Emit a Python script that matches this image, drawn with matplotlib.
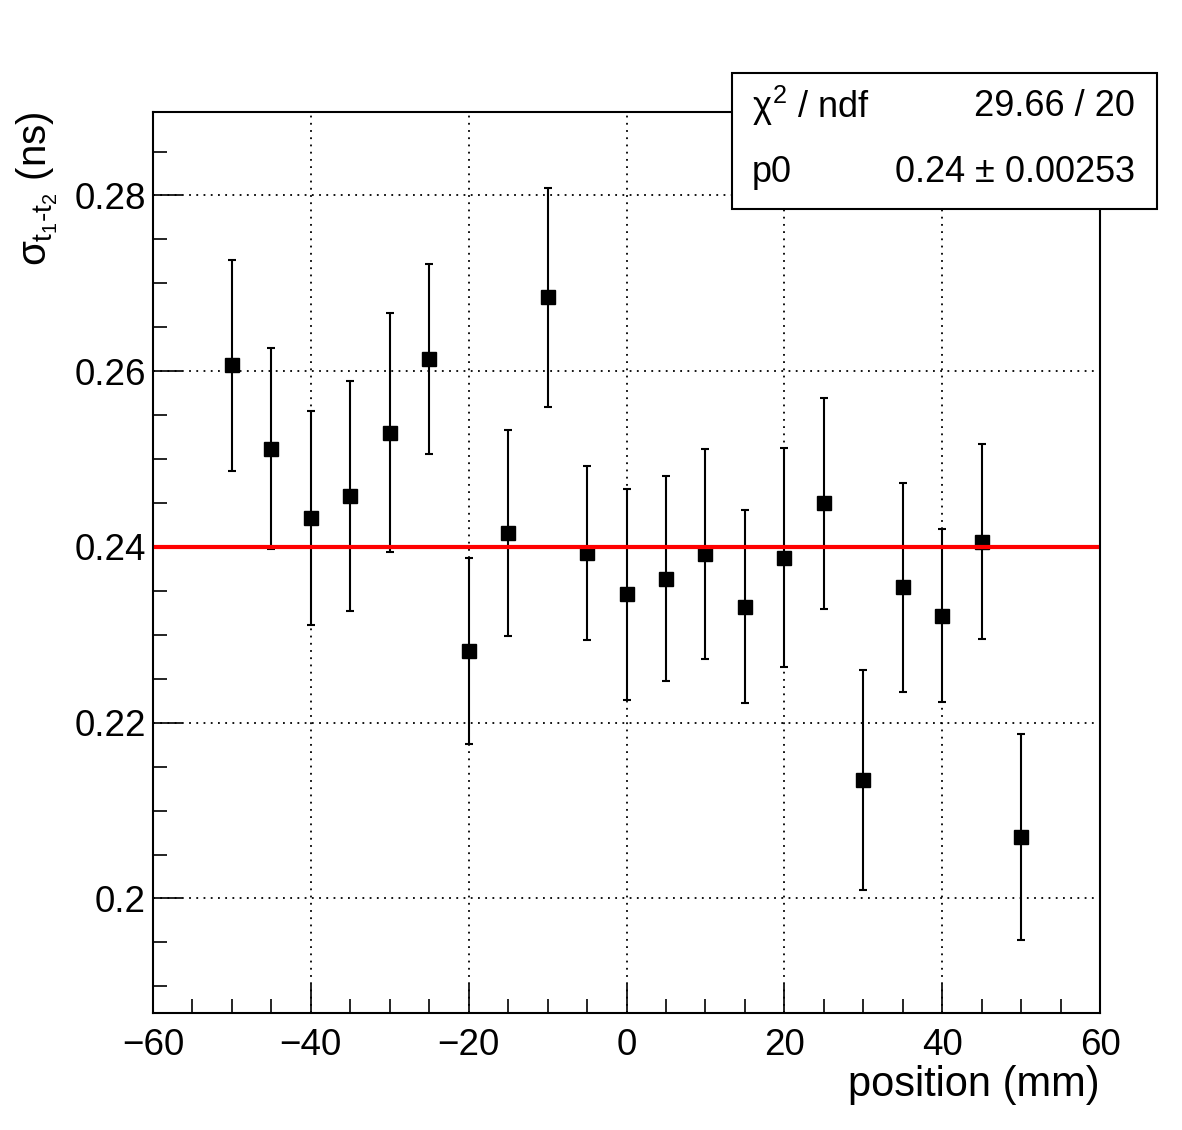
import matplotlib
matplotlib.use("Agg")
import matplotlib.pyplot as plt
from matplotlib.patches import Rectangle
from matplotlib.ticker import MultipleLocator, FuncFormatter

# フォント（ROOTのHelvetica相当）
plt.rcParams['font.family'] = ['Liberation Sans', 'DejaVu Sans']
plt.rcParams['mathtext.fontset'] = 'custom'
plt.rcParams['mathtext.rm'] = 'Liberation Sans'
plt.rcParams['mathtext.it'] = 'Liberation Sans'
plt.rcParams['mathtext.sf'] = 'Liberation Sans'

# データ
position = [-50, -45, -40, -35, -30, -25, -20, -15, -10, -5, 0,
            5, 10, 15, 20, 25, 30, 35, 40, 45, 50]
sigma = [0.2607, 0.2512, 0.2433, 0.2458, 0.2530, 0.2614, 0.2282, 0.2416,
         0.2684, 0.2393, 0.2346, 0.2364, 0.2392, 0.2332, 0.2388, 0.2450,
         0.2135, 0.2354, 0.2322, 0.2406, 0.2070]
sigma_err = [0.0120, 0.0114, 0.0122, 0.0131, 0.0136, 0.0108, 0.0106, 0.0117,
             0.0125, 0.0099, 0.0120, 0.0117, 0.0120, 0.0110, 0.0125, 0.0120,
             0.0125, 0.0119, 0.0098, 0.0111, 0.0117]

# フィット結果
p0 = 0.24
fit_range = [-59.6, 59.6]
chi2_text = "29.66 / 20"
p0_text = "0.24 $\\pm$ 0.00253"

fig = plt.figure(figsize=(11.82, 11.30), dpi=100)
ax = fig.add_axes([153/1182, 1 - 1013/1130, 947/1182, 901/1130])

# 点と誤差棒
ax.errorbar(position, sigma, yerr=sigma_err, fmt='s', color='black',
            markersize=10, elinewidth=1.5, capsize=3, capthick=1.5, zorder=3)
# フィット直線
ax.plot(fit_range, [p0, p0], color='red', lw=3, zorder=4)

ax.set_xlim(-60, 60)
ax.set_ylim(0.18697, 0.2895)

ax.xaxis.set_major_locator(MultipleLocator(20))
ax.xaxis.set_minor_locator(MultipleLocator(5))
ax.yaxis.set_major_locator(MultipleLocator(0.02))
ax.yaxis.set_minor_locator(MultipleLocator(0.005))
ax.xaxis.set_major_formatter(FuncFormatter(lambda v, p: ('%g' % v).replace('-', '\u2212')))
ax.yaxis.set_major_formatter(FuncFormatter(lambda v, p: '%g' % round(v, 4)))

ax.tick_params(which='both', direction='in', top=False, right=False, width=1.2)
ax.tick_params(which='major', length=21, labelsize=26.5)
ax.tick_params(which='minor', length=10)
ax.tick_params(axis='x', which='major', pad=11)
ax.tick_params(axis='y', which='major', pad=5)

ax.grid(True, which='major', color='black', linestyle=(0, (1, 3)), lw=1.3)
for s in ax.spines.values():
    s.set_linewidth(1.5)

# 軸ラベル
ax.set_xlabel('position (mm)', fontsize=30, ha='right', va='center')
ax.xaxis.set_label_coords(1.0, -0.08)
ax.set_ylabel(r'$\sigma_{t_{1}\text{-}t_{2}}$ (ns)', fontsize=29, ha='right', va='center')
ax.yaxis.set_label_coords(-0.122, 1.0)

# 統計ボックス
fig.patches.append(Rectangle((732/1182, 1 - 209/1130), 425/1182, 136/1130,
                             transform=fig.transFigure, facecolor='white',
                             edgecolor='black', lw=1.5, zorder=5))
fig.text(752/1182, 1 - 106/1130, r'$\chi^{2}$ / ndf', fontsize=26, va='center', zorder=6)
fig.text(1135/1182, 1 - 106/1130, chi2_text, fontsize=26, va='center', ha='right', zorder=6)
fig.text(752/1182, 1 - 172/1130, 'p0', fontsize=26, va='center', zorder=6)
fig.text(1135/1182, 1 - 172/1130, p0_text, fontsize=26, va='center', ha='right', zorder=6)

plt.savefig('out.png', dpi=100)
plt.close()
